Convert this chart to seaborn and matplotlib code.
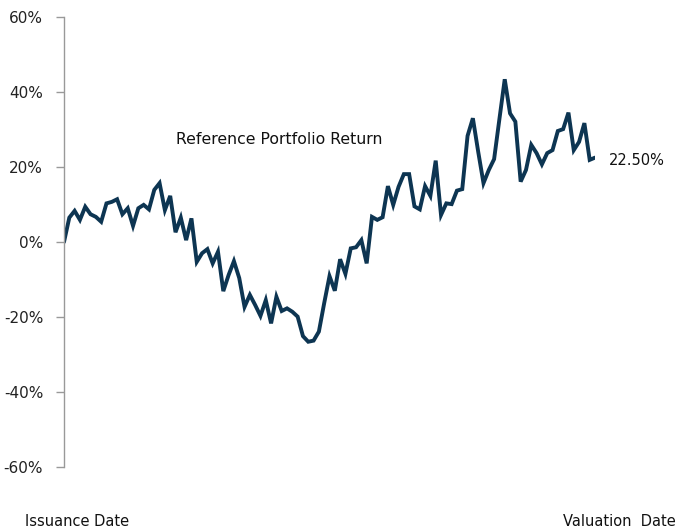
import numpy as np
import pandas as pd
import matplotlib
matplotlib.use("Agg")
import matplotlib.pyplot as plt
import seaborn as sns
from matplotlib.ticker import FuncFormatter

# Monthly reference portfolio return (%)
returns = [0.0, 6.5, 8.3, 5.9, 9.4, 7.4, 6.7, 5.4, 10.3, 10.7,
           11.4, 7.4, 9.0, 4.3, 9.0, 9.9, 8.7, 13.9, 15.7, 8.5,
           12.3, 2.6, 6.5, 0.5, 6.3, -5.3, -3.0, -1.9, -5.7, -2.6,
           -13.1, -8.8, -5.1, -9.6, -17.3, -14.1, -16.8, -19.7, -15.5, -21.7,
           -14.6, -18.4, -17.7, -18.6, -19.9, -25.1, -26.6, -26.3, -23.9, -16.3,
           -9.1, -13.0, -4.6, -8.5, -1.7, -1.4, 0.5, -5.7, 6.7, 5.9,
           6.6, 14.9, 9.9, 14.7, 18.1, 18.1, 9.5, 8.7, 14.9, 12.3,
           21.7, 7.2, 10.3, 10.1, 13.7, 14.1, 28.3, 33.0, 24.1, 15.7,
           19.2, 22.1, 32.8, 43.4, 34.3, 32.1, 16.1, 19.2, 25.9, 23.7,
           20.7, 23.7, 24.5, 29.6, 30.1, 34.5, 24.5, 26.7, 31.7, 21.9,
           22.5]
periods = list(range(len(returns)))
y_ticks = [-60, -40, -20, 0, 20, 40, 60]
series_label = "Reference Portfolio Return"
start_label = "Issuance Date"
end_label = "Valuation  Date"
final_label = "22.50%"

df = pd.DataFrame({"period": periods, "ret": returns})

sns.set_theme(style="white")
plt.rcParams['font.family'] = ['DejaVu Sans']

W, H = 679, 531
fig = plt.figure(figsize=(W / 100, H / 100), dpi=100)
ax = fig.add_axes([64 / W, (H - 467) / H, (595 - 64) / W, (467 - 17) / H])

line_color = "#0d3552"
sns.lineplot(data=df, x="period", y="ret", ax=ax, color=line_color,
             linewidth=2.8, solid_joinstyle="miter")

ax.set_xlim(0, len(returns) - 1)
ax.set_ylim(-60, 60)
ax.set_yticks(y_ticks)
ax.yaxis.set_major_formatter(FuncFormatter(lambda v, p: f"{v:.0f}%"))
ax.set_xticks([])
ax.set_xlabel("")
ax.set_ylabel("")
ax.tick_params(axis="y", which="major", left=True, length=6, width=1,
               color="#999999", labelsize=11, labelcolor="#222222", pad=9)

for s in ["top", "right", "bottom"]:
    ax.spines[s].set_visible(False)
ax.spines["left"].set_color("#999999")
ax.spines["left"].set_linewidth(1)
ax.grid(False)

ax.text((279 - 64) / 531, (467 - 140) / 450, series_label, transform=ax.transAxes,
        ha="center", va="center", fontsize=11.3, color="#111111")
ax.annotate(final_label, xy=(periods[-1], returns[-1]), xytext=(10, -2),
            textcoords="offset points", ha="left", va="center",
            fontsize=10.5, color="#111111", annotation_clip=False)

fig.text(25 / W, 1 - 521 / H, start_label, ha="left", va="center",
         fontsize=10.5, color="#111111")
fig.text(676 / W, 1 - 521 / H, end_label, ha="right", va="center",
         fontsize=10.5, color="#111111")

fig.savefig("out.png", dpi=100)
